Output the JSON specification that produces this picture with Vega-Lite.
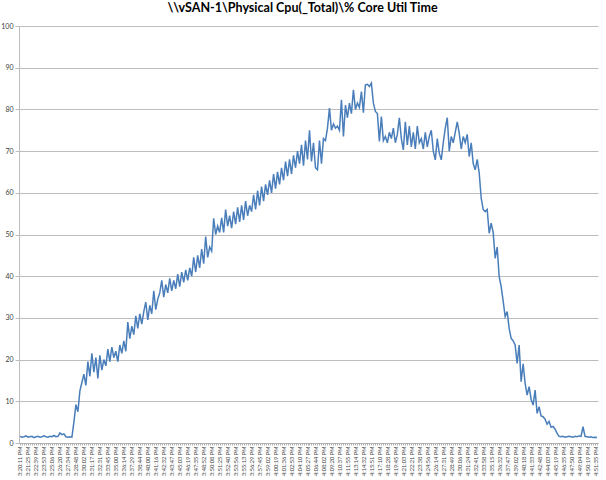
{
"$schema": "https://vega.github.io/schema/vega-lite/v6.json",
"autosize": "none",
"width": 579, "height": 417,
"padding": {"left": 19, "top": 26, "right": 8, "bottom": 37},
"background": "white",
"title": {"text": "\\\\vSAN-1\\Physical Cpu(_Total)\\% Core Util Time", "font": "Lato", "fontSize": 12.5, "fontWeight": "bold", "color": "#000000", "anchor": "middle", "offset": 8, "dx": -6},
"config": {"view": {"stroke": null}},
"data": {"values": [
{"t":"3:20:11 PM","v":1.6},{"t":"3:20:29 PM","v":1.4},{"t":"3:20:48 PM","v":1.5},{"t":"3:21:06 PM","v":1.7},
{"t":"3:21:25 PM","v":1.4},{"t":"3:21:43 PM","v":1.5},{"t":"3:22:02 PM","v":1.6},{"t":"3:22:20 PM","v":1.3},
{"t":"3:22:39 PM","v":1.5},{"t":"3:22:57 PM","v":1.6},{"t":"3:23:16 PM","v":1.4},{"t":"3:23:34 PM","v":1.5},
{"t":"3:23:53 PM","v":1.7},{"t":"3:24:11 PM","v":1.5},{"t":"3:24:30 PM","v":1.4},{"t":"3:24:48 PM","v":1.6},
{"t":"3:25:06 PM","v":1.5},{"t":"3:25:24 PM","v":1.8},{"t":"3:25:43 PM","v":1.5},{"t":"3:26:01 PM","v":1.6},
{"t":"3:26:20 PM","v":2.4},{"t":"3:26:38 PM","v":2.0},{"t":"3:26:57 PM","v":2.2},{"t":"3:27:15 PM","v":1.5},
{"t":"3:27:34 PM","v":1.4},{"t":"3:27:52 PM","v":1.5},{"t":"3:28:11 PM","v":1.4},{"t":"3:28:29 PM","v":5},
{"t":"3:28:48 PM","v":9.2},{"t":"3:29:06 PM","v":7.5},{"t":"3:29:25 PM","v":12.5},{"t":"3:29:43 PM","v":14.5},
{"t":"3:30:02 PM","v":16.5},{"t":"3:30:21 PM","v":13.8},{"t":"3:30:39 PM","v":19.5},{"t":"3:30:58 PM","v":16},
{"t":"3:31:17 PM","v":21.5},{"t":"3:31:35 PM","v":17},{"t":"3:31:54 PM","v":20.5},{"t":"3:32:12 PM","v":15.5},
{"t":"3:32:31 PM","v":21},{"t":"3:32:49 PM","v":17.5},{"t":"3:33:08 PM","v":20},{"t":"3:33:26 PM","v":18.5},
{"t":"3:33:45 PM","v":22.5},{"t":"3:34:04 PM","v":19.5},{"t":"3:34:22 PM","v":23},{"t":"3:34:41 PM","v":20.5},
{"t":"3:35:00 PM","v":22},{"t":"3:35:18 PM","v":19.5},{"t":"3:35:37 PM","v":23.5},{"t":"3:35:55 PM","v":21.5},
{"t":"3:36:14 PM","v":24.5},{"t":"3:36:33 PM","v":22},{"t":"3:36:51 PM","v":29},{"t":"3:37:10 PM","v":25},
{"t":"3:37:29 PM","v":28},{"t":"3:37:48 PM","v":26},{"t":"3:38:06 PM","v":30.5},{"t":"3:38:25 PM","v":27.5},
{"t":"3:38:44 PM","v":31},{"t":"3:39:03 PM","v":28.5},{"t":"3:39:22 PM","v":31.5},{"t":"3:39:41 PM","v":33.8},
{"t":"3:40:00 PM","v":29.5},{"t":"3:40:19 PM","v":33},{"t":"3:40:38 PM","v":31},{"t":"3:40:57 PM","v":36.5},
{"t":"3:41:16 PM","v":32},{"t":"3:41:35 PM","v":34.5},{"t":"3:41:54 PM","v":36},{"t":"3:42:13 PM","v":39},
{"t":"3:42:32 PM","v":35},{"t":"3:42:51 PM","v":38},{"t":"3:43:09 PM","v":36},{"t":"3:43:28 PM","v":39.5},
{"t":"3:43:47 PM","v":36.5},{"t":"3:44:06 PM","v":39},{"t":"3:44:25 PM","v":37},{"t":"3:44:44 PM","v":40.5},
{"t":"3:45:03 PM","v":37.5},{"t":"3:45:22 PM","v":41},{"t":"3:45:41 PM","v":38.5},{"t":"3:46:00 PM","v":41.5},
{"t":"3:46:19 PM","v":39},{"t":"3:46:38 PM","v":42},{"t":"3:46:57 PM","v":40},{"t":"3:47:16 PM","v":44.5},
{"t":"3:47:35 PM","v":41},{"t":"3:47:54 PM","v":45},{"t":"3:48:13 PM","v":42},{"t":"3:48:33 PM","v":46.5},
{"t":"3:48:52 PM","v":43},{"t":"3:49:11 PM","v":49.5},{"t":"3:49:30 PM","v":44.5},{"t":"3:49:49 PM","v":47},
{"t":"3:50:08 PM","v":46},{"t":"3:50:27 PM","v":53.9},{"t":"3:50:46 PM","v":50},{"t":"3:51:06 PM","v":52},
{"t":"3:51:25 PM","v":50.5},{"t":"3:51:44 PM","v":54},{"t":"3:52:02 PM","v":50.5},{"t":"3:52:21 PM","v":56},
{"t":"3:52:40 PM","v":52},{"t":"3:52:59 PM","v":54.5},{"t":"3:53:18 PM","v":51.5},{"t":"3:53:37 PM","v":55.5},
{"t":"3:53:56 PM","v":52.5},{"t":"3:54:15 PM","v":56.5},{"t":"3:54:34 PM","v":53},{"t":"3:54:54 PM","v":57},
{"t":"3:55:13 PM","v":53.5},{"t":"3:55:32 PM","v":58},{"t":"3:55:51 PM","v":54.5},{"t":"3:56:10 PM","v":57},
{"t":"3:56:29 PM","v":55.5},{"t":"3:56:48 PM","v":59.5},{"t":"3:57:07 PM","v":56},{"t":"3:57:26 PM","v":60.5},
{"t":"3:57:45 PM","v":57},{"t":"3:58:04 PM","v":61.5},{"t":"3:58:23 PM","v":58},{"t":"3:58:43 PM","v":62},
{"t":"3:59:02 PM","v":59.5},{"t":"3:59:21 PM","v":63},{"t":"3:59:40 PM","v":60},{"t":"4:00:00 PM","v":64.5},
{"t":"4:00:19 PM","v":61},{"t":"4:00:38 PM","v":65},{"t":"4:00:57 PM","v":62},{"t":"4:01:17 PM","v":66},
{"t":"4:01:36 PM","v":63},{"t":"4:01:55 PM","v":67.5},{"t":"4:02:14 PM","v":64},{"t":"4:02:34 PM","v":68},
{"t":"4:02:53 PM","v":64.5},{"t":"4:03:12 PM","v":69},{"t":"4:03:31 PM","v":66},{"t":"4:03:51 PM","v":70},
{"t":"4:04:10 PM","v":67},{"t":"4:04:29 PM","v":71.5},{"t":"4:04:48 PM","v":66.5},{"t":"4:05:08 PM","v":72.5},
{"t":"4:05:27 PM","v":68},{"t":"4:05:46 PM","v":75},{"t":"4:06:05 PM","v":67.5},{"t":"4:06:25 PM","v":72},
{"t":"4:06:44 PM","v":66},{"t":"4:07:03 PM","v":65.5},{"t":"4:07:23 PM","v":72.5},{"t":"4:07:42 PM","v":67},
{"t":"4:08:02 PM","v":73},{"t":"4:08:21 PM","v":72.5},{"t":"4:08:41 PM","v":75.5},{"t":"4:09:00 PM","v":80.3},
{"t":"4:09:20 PM","v":75},{"t":"4:09:39 PM","v":76.5},{"t":"4:09:58 PM","v":75.5},{"t":"4:10:18 PM","v":76},
{"t":"4:10:37 PM","v":75},{"t":"4:10:56 PM","v":82.3},{"t":"4:11:16 PM","v":73.5},{"t":"4:11:35 PM","v":81},
{"t":"4:11:55 PM","v":78},{"t":"4:12:15 PM","v":81.5},{"t":"4:12:34 PM","v":79},{"t":"4:12:54 PM","v":84.7},
{"t":"4:13:14 PM","v":80},{"t":"4:13:33 PM","v":81.5},{"t":"4:13:53 PM","v":80.5},{"t":"4:14:12 PM","v":84.3},
{"t":"4:14:32 PM","v":79.2},{"t":"4:14:52 PM","v":85.9},{"t":"4:15:11 PM","v":86},{"t":"4:15:31 PM","v":85.5},
{"t":"4:15:51 PM","v":86.3},{"t":"4:16:11 PM","v":81.5},{"t":"4:16:30 PM","v":79.5},{"t":"4:16:50 PM","v":79},
{"t":"4:17:10 PM","v":72.3},{"t":"4:17:29 PM","v":78.3},{"t":"4:17:49 PM","v":72.5},{"t":"4:18:08 PM","v":73.5},
{"t":"4:18:28 PM","v":72},{"t":"4:18:47 PM","v":74.5},{"t":"4:19:06 PM","v":73},{"t":"4:19:26 PM","v":75.5},
{"t":"4:19:45 PM","v":72},{"t":"4:20:04 PM","v":74},{"t":"4:20:24 PM","v":78},{"t":"4:20:43 PM","v":73},
{"t":"4:21:03 PM","v":70.3},{"t":"4:21:22 PM","v":77},{"t":"4:21:42 PM","v":71.5},{"t":"4:22:01 PM","v":76},
{"t":"4:22:21 PM","v":71},{"t":"4:22:40 PM","v":74.5},{"t":"4:22:59 PM","v":70.5},{"t":"4:23:19 PM","v":76},
{"t":"4:23:38 PM","v":72},{"t":"4:23:57 PM","v":73},{"t":"4:24:17 PM","v":70.5},{"t":"4:24:36 PM","v":74.5},
{"t":"4:24:56 PM","v":71},{"t":"4:25:15 PM","v":73.5},{"t":"4:25:35 PM","v":75},{"t":"4:25:54 PM","v":70},
{"t":"4:26:14 PM","v":67.9},{"t":"4:26:33 PM","v":73},{"t":"4:26:52 PM","v":69.5},{"t":"4:27:12 PM","v":67.9},
{"t":"4:27:31 PM","v":72},{"t":"4:27:50 PM","v":75.5},{"t":"4:28:10 PM","v":78},{"t":"4:28:29 PM","v":70},
{"t":"4:28:49 PM","v":73.5},{"t":"4:29:08 PM","v":72},{"t":"4:29:27 PM","v":74.5},{"t":"4:29:47 PM","v":77},
{"t":"4:30:06 PM","v":74.3},{"t":"4:30:25 PM","v":70.5},{"t":"4:30:45 PM","v":73.5},{"t":"4:31:04 PM","v":72},
{"t":"4:31:24 PM","v":74},{"t":"4:31:43 PM","v":68.7},{"t":"4:32:02 PM","v":72},{"t":"4:32:22 PM","v":67},
{"t":"4:32:41 PM","v":65.5},{"t":"4:33:00 PM","v":68},{"t":"4:33:19 PM","v":64.7},{"t":"4:33:39 PM","v":58.7},
{"t":"4:33:58 PM","v":56},{"t":"4:34:17 PM","v":55.5},{"t":"4:34:36 PM","v":56},{"t":"4:34:56 PM","v":50.3},
{"t":"4:35:15 PM","v":52.7},{"t":"4:35:34 PM","v":50.5},{"t":"4:35:53 PM","v":44.3},{"t":"4:36:13 PM","v":47},
{"t":"4:36:32 PM","v":39.9},{"t":"4:36:51 PM","v":37.5},{"t":"4:37:09 PM","v":34},{"t":"4:37:28 PM","v":30.3},
{"t":"4:37:47 PM","v":31.5},{"t":"4:38:06 PM","v":27.5},{"t":"4:38:24 PM","v":25.1},{"t":"4:38:43 PM","v":24.5},
{"t":"4:39:02 PM","v":23.5},{"t":"4:39:21 PM","v":19.1},{"t":"4:39:40 PM","v":23.5},{"t":"4:39:59 PM","v":14.7},
{"t":"4:40:18 PM","v":19},{"t":"4:40:37 PM","v":14.3},{"t":"4:40:55 PM","v":11.5},{"t":"4:41:14 PM","v":13.5},
{"t":"4:41:33 PM","v":10.5},{"t":"4:41:52 PM","v":9.1},{"t":"4:42:10 PM","v":12.7},{"t":"4:42:29 PM","v":7.1},
{"t":"4:42:48 PM","v":8.7},{"t":"4:43:07 PM","v":6.5},{"t":"4:43:25 PM","v":6.3},{"t":"4:43:44 PM","v":5.7},
{"t":"4:44:03 PM","v":4.5},{"t":"4:44:22 PM","v":5.2},{"t":"4:44:41 PM","v":3.8},{"t":"4:45:00 PM","v":4},
{"t":"4:45:19 PM","v":3.3},{"t":"4:45:38 PM","v":2.3},{"t":"4:45:57 PM","v":1.6},{"t":"4:46:16 PM","v":1.5},
{"t":"4:46:35 PM","v":1.6},{"t":"4:46:54 PM","v":1.4},{"t":"4:47:12 PM","v":1.5},{"t":"4:47:31 PM","v":1.6},
{"t":"4:47:50 PM","v":1.5},{"t":"4:48:08 PM","v":1.4},{"t":"4:48:27 PM","v":1.6},{"t":"4:48:45 PM","v":1.5},
{"t":"4:49:04 PM","v":1.7},{"t":"4:49:23 PM","v":1.6},{"t":"4:49:41 PM","v":3.9},{"t":"4:50:00 PM","v":1.6},
{"t":"4:50:19 PM","v":1.5},{"t":"4:50:38 PM","v":1.4},{"t":"4:50:57 PM","v":1.5},{"t":"4:51:16 PM","v":1.3},
{"t":"4:51:35 PM","v":1.4},{"t":"4:51:54 PM","v":1.3}
]},
"mark": {"type": "line", "color": "#4a7ebb", "strokeWidth": 1.5},
"encoding": {
  "x": {"field": "t", "type": "ordinal", "sort": null,
        "scale": {"type": "point", "padding": 0.5},
        "axis": {"title": null, "labelAngle": -90, "labelFont": "Lato", "labelFontSize": 5.7, "labelColor": "#404040", "labelPadding": 1,
                 "labelExpr": "round(datum.index*289) % 4 == 0 ? datum.label : ''", "labelOverlap": false,
                 "tickColor": "#b0b0b0", "tickSize": 2, "domainColor": "#b0b0b0", "grid": false}},
  "y": {"field": "v", "type": "quantitative", "scale": {"domain": [0, 100], "nice": false},
        "axis": {"title": null, "values": [0,10,20,30,40,50,60,70,80,90,100], "grid": true, "gridColor": "#bdbdbd",
                 "domainColor": "#bdbdbd", "tickColor": "#bdbdbd", "tickSize": 4, "labelFont": "Lato", "labelFontSize": 7,
                 "labelColor": "#404040", "labelPadding": 2}}
}
}
